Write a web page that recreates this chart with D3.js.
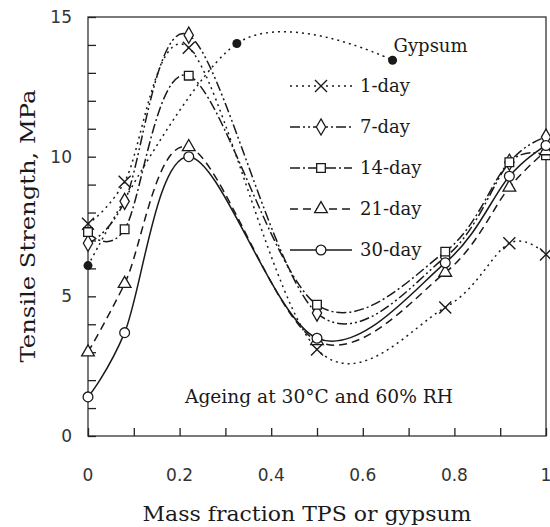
<!DOCTYPE html>
<html>
<head>
<meta charset="utf-8">
<script src="https://cdn.jsdelivr.net/npm/d3@7"></script>
<style>
  body { margin: 0; background: #fff; }
  svg { display: block; }
</style>
</head>
<body>
<div id="chart"></div>
<script>
// data
var fractions = [0, 0.08, 0.22, 0.5, 0.78, 0.92, 1];
var day1  = [7.6, 9.1, 13.9, 3.1, 4.6, 6.9, 6.5];
var day7  = [6.9, 8.4, 14.35, 4.4, 6.4, 9.8, 10.7];
var day14 = [7.3, 7.4, 12.9, 4.7, 6.6, 9.8, 10.05];
var day21 = [3.0, 5.45, 10.35, 3.4, 5.85, 8.9, 10.2];
var day30 = [1.4, 3.7, 10.0, 3.5, 6.2, 9.3, 10.4];
var gypsumX = [0, 0.325, 0.665];
var gypsumY = [6.1, 14.05, 13.45];
var seriesNames = ["1-day", "7-day", "14-day", "21-day", "30-day"];
var xTickLabels = ["0", "0.2", "0.4", "0.6", "0.8", "1"];
var yTickLabels = ["0", "5", "10", "15"];

var margin = {top: 17, right: 4, bottom: 91, left: 88},
    width = 550 - margin.left - margin.right,
    height = 527 - margin.top - margin.bottom;

var serif = "'DejaVu Serif', 'Liberation Serif', serif";
var sans = "'DejaVu Sans', sans-serif";
var ink = "#1a1a1a";

var svg = d3.select("#chart")
  .append("svg")
    .attr("width", 550)
    .attr("height", 527)
  .append("g")
    .attr("transform", "translate(" + margin.left + "," + margin.top + ")");

var x = d3.scaleLinear().domain([0, 1]).range([0, width]);
var y = d3.scaleLinear().domain([0, 15]).range([height, 0]);

// frame
svg.append("rect")
  .attr("width", width).attr("height", height)
  .attr("fill", "none").attr("stroke", "#333").attr("stroke-width", 1.3);

// inside ticks
svg.append("g")
  .attr("transform", "translate(0," + height + ")")
  .call(d3.axisTop(x).tickValues(d3.range(0, 11).map(function(i) { return i / 10; }))
        .tickSize(8).tickFormat(""))
  .call(function(g) { g.select(".domain").remove(); })
  .selectAll("line").attr("stroke", "#222").attr("stroke-width", 1.3);

svg.append("g")
  .call(d3.axisRight(y).tickValues(d3.range(0, 16)).tickSize(8).tickFormat(""))
  .call(function(g) { g.select(".domain").remove(); })
  .selectAll("line").attr("stroke", "#222").attr("stroke-width", 1.3);

// tick labels
svg.selectAll(".xlab")
  .data(xTickLabels)
  .enter().append("text")
    .attr("x", function(d) { return x(+d); })
    .attr("y", height + 45)
    .attr("text-anchor", "middle")
    .style("font-family", sans).style("font-size", "17px").attr("fill", "#333")
    .text(function(d) { return d; });

svg.selectAll(".ylab")
  .data(yTickLabels)
  .enter().append("text")
    .attr("x", -16)
    .attr("y", function(d) { return y(+d) + 6; })
    .attr("text-anchor", "end")
    .style("font-family", sans).style("font-size", "17px").attr("fill", "#333")
    .text(function(d) { return d; });

// axis titles
svg.append("text")
  .attr("x", 307 - margin.left).attr("y", 521 - margin.top)
  .attr("text-anchor", "middle")
  .attr("textLength", 329).attr("lengthAdjust", "spacingAndGlyphs")
  .style("font-family", serif).style("font-size", "20px").attr("fill", ink)
  .text("Mass fraction TPS or gypsum");

svg.append("text")
  .attr("transform", "translate(" + (35 - margin.left) + "," + (226 - margin.top) + ")rotate(-90)")
  .attr("text-anchor", "middle")
  .attr("textLength", 273).attr("lengthAdjust", "spacingAndGlyphs")
  .style("font-family", serif).style("font-size", "20px").attr("fill", ink)
  .text("Tensile Strength, MPa");

svg.append("text")
  .attr("x", 185 - margin.left).attr("y", 403 - margin.top)
  .attr("textLength", 268).attr("lengthAdjust", "spacingAndGlyphs")
  .style("font-family", serif).style("font-size", "18px").attr("fill", ink)
  .text("Ageing at 30\u00B0C and 60% RH");

// series
var dashes = ["2,4", "10,3,2,3,2,3", "10,3,2,3", "8,5", null];
var shapes = ["cross", d3.symbolDiamond, d3.symbolSquare, d3.symbolTriangle, d3.symbolCircle];
var sizes = [0, 75, 75, 70, 75];
var values = [day1, day7, day14, day21, day30];

var line = d3.line()
  .x(function(d) { return x(d[0]); })
  .y(function(d) { return y(d[1]); })
  .curve(d3.curveCardinal.tension(0));

function marker(g, i) {
  if (shapes[i] === "cross") {
    g.append("path").attr("d", "M-6,-6L6,6M-6,6L6,-6")
      .attr("stroke", ink).attr("stroke-width", 1.4).attr("fill", "none");
  } else {
    g.append("path").attr("d", d3.symbol().type(shapes[i]).size(sizes[i])())
      .attr("fill", "#fff").attr("stroke", ink).attr("stroke-width", 1.3);
  }
}

// gypsum
var gyp = d3.zip(gypsumX, gypsumY);
svg.append("path")
  .attr("d", line(gyp))
  .attr("fill", "none").attr("stroke", ink).attr("stroke-width", 1.5)
  .attr("stroke-dasharray", "2,4");
svg.selectAll(".gdot")
  .data(gyp)
  .enter().append("circle")
    .attr("cx", function(d) { return x(d[0]); })
    .attr("cy", function(d) { return y(d[1]); })
    .attr("r", 4.5).attr("fill", ink);
svg.append("text")
  .attr("x", x(gypsumX[2]) + 1).attr("y", y(gypsumY[2]) - 8)
  .style("font-family", serif).style("font-size", "18px").attr("fill", ink)
  .text("Gypsum");

values.forEach(function(vals, i) {
  var pts = d3.zip(fractions, vals);
  svg.append("path")
    .attr("d", line(pts))
    .attr("fill", "none").attr("stroke", ink).attr("stroke-width", 1.5)
    .attr("stroke-dasharray", dashes[i]);
});

values.forEach(function(vals, i) {
  svg.selectAll(".m" + i)
    .data(d3.zip(fractions, vals))
    .enter().append("g")
      .attr("transform", function(d) { return "translate(" + x(d[0]) + "," + y(d[1]) + ")"; })
      .each(function() { marker(d3.select(this), i); });
});

// legend
var legendY = [86, 127, 168, 209, 250];
var legend = svg.selectAll(".legend")
  .data(seriesNames)
  .enter().append("g")
    .attr("transform", function(d, i) { return "translate(" + (290 - margin.left) + "," + (legendY[i] - margin.top) + ")"; });

legend.append("line")
  .attr("x1", 0).attr("x2", 62)
  .attr("stroke", ink).attr("stroke-width", 1.5)
  .attr("stroke-dasharray", function(d, i) { return dashes[i]; });

legend.append("g")
  .attr("transform", "translate(31,0)")
  .each(function(d, i) { marker(d3.select(this), i); });

legend.append("text")
  .attr("x", 70).attr("y", 6)
  .style("font-family", serif).style("font-size", "18px").attr("fill", ink)
  .text(function(d) { return d; });
</script>
</body>
</html>
